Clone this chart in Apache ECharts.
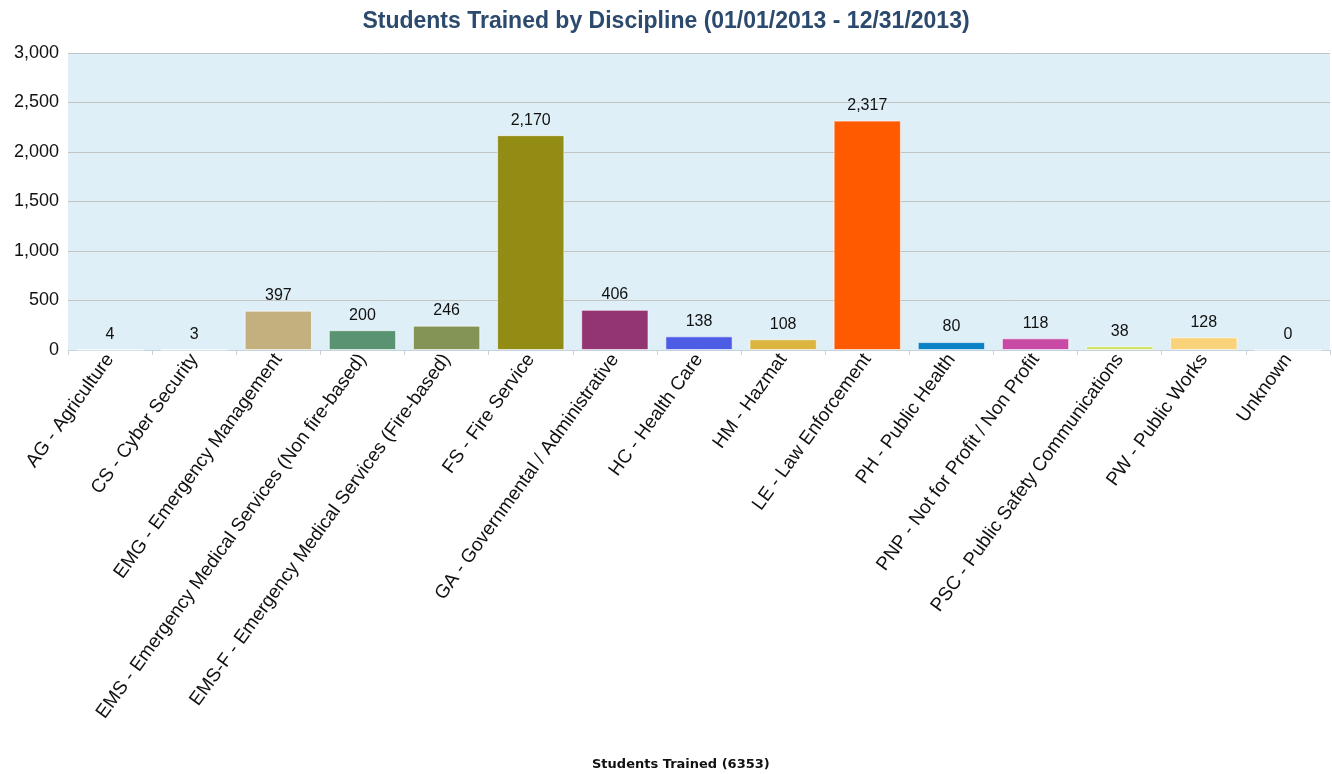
<!DOCTYPE html>
<html><head><meta charset="utf-8">
<script src="https://cdn.jsdelivr.net/npm/echarts@6/dist/echarts.min.js"></script>
<style>html,body{margin:0;padding:0;background:#fff}#c{width:1332px;height:774px}</style>
</head><body><div id="c"></div>
<script>
const categories = ["AG - Agriculture","CS - Cyber Security","EMG - Emergency Management","EMS - Emergency Medical Services (Non fire-based)","EMS-F - Emergency Medical Services (Fire-based)","FS - Fire Service","GA - Governmental / Administrative","HC - Health Care","HM - Hazmat","LE - Law Enforcement","PH - Public Health","PNP - Not for Profit / Non Profit","PSC - Public Safety Communications","PW - Public Works","Unknown"];
const values = [4,3,397,200,246,2170,406,138,108,2317,80,118,38,128,0];
const barColors = ["#7a9cc8","#a0a0a0","#c4b07f","#5a9372","#849457","#938c14","#943573","#4d5de6","#dbb53f","#ff5a00","#0a82c8","#c84aa5","#cfe05f","#fad27a","#999999"];
const titleText = "Students Trained by Discipline (01/01/2013 - 12/31/2013)";
const axisTitle = "Students Trained (6353)";

const chart = echarts.init(document.getElementById('c'), null, {renderer:'canvas'});
chart.setOption({
  animation:false,
  backgroundColor:'#ffffff',
  title:[
    {text:titleText, left:'center', top:5, textStyle:{fontFamily:'Liberation Sans, Arial', fontSize:23, fontWeight:'bold', color:'#2b4a6e'}},
    {text:axisTitle, left:587, top:753, textStyle:{fontFamily:'DejaVu Sans', fontSize:13, fontWeight:'bold', color:'#111'}}
  ],
  grid:{left:68, right:2, top:53, bottom:424, backgroundColor:'#dfeff7', show:true, borderWidth:0},
  xAxis:{
    type:'category', data:categories,
    axisLine:{lineStyle:{color:'#c5d3de', width:1}},
    axisTick:{show:true, length:5, lineStyle:{color:'#c5d3de'}},
    axisLabel:{rotate:54, interval:0, fontFamily:'Liberation Sans, Arial', fontSize:19, color:'#111', margin:6}
  },
  yAxis:{
    type:'value', min:0, max:3000, interval:500,
    axisLine:{show:false}, axisTick:{show:false},
    splitLine:{lineStyle:{color:'#c3c3c3', width:1}},
    axisLabel:{fontFamily:'Liberation Sans, Arial', fontSize:18, color:'#111', margin:9,
      formatter:v=>v.toLocaleString('en-US')}
  },
  series:[{
    type:'bar',
    data:values.map((v,i)=>({value:v, itemStyle:{color:barColors[i]}})),
    barCategoryGap:'20%',
    itemStyle:{borderColor:'rgba(255,255,255,0.6)', borderWidth:1},
    label:{show:true, position:'top', distance:7, fontFamily:'Liberation Sans, Arial', fontSize:16, color:'#111',
      formatter:p=>p.value.toLocaleString('en-US')}
  }]
});
</script></body></html>
